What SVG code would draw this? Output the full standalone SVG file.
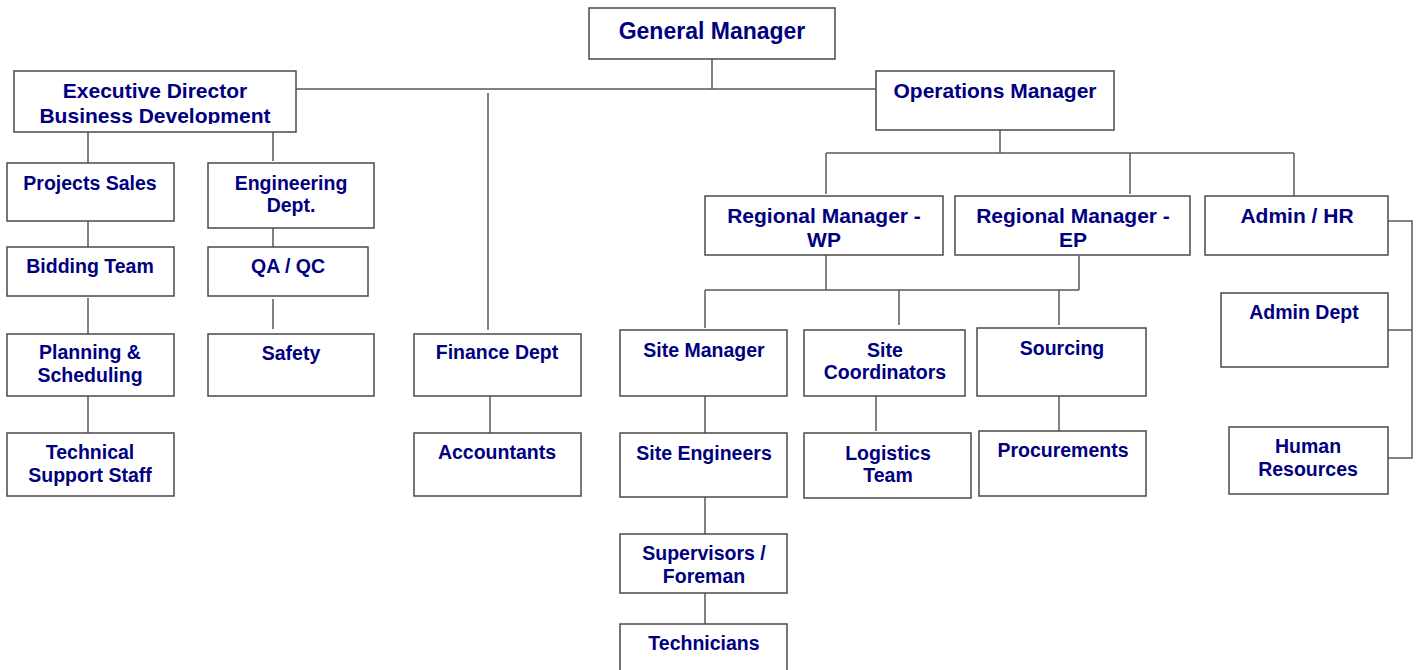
<svg xmlns="http://www.w3.org/2000/svg" width="1418" height="670" viewBox="0 0 1418 670">
<style>
.box{fill:#fff;stroke:#4a4a4a;stroke-width:1.5}
.ln{fill:none;stroke:#5a5a5a;stroke-width:1.5}
text{font-family:"Liberation Sans",Arial,sans-serif;font-weight:bold;fill:#000080;text-anchor:middle}
.t1{font-size:23px}
.t2{font-size:21px}
.t3{font-size:19.5px}
</style>
<defs>
<clipPath id="edclip"><rect x="14" y="71" width="282" height="53"/></clipPath>
</defs>
<rect width="1418" height="670" fill="#fff"/>
<g id="connectors">
<path class="ln" d="M712 59V89M296 89H876M488 93V330"/>
<path class="ln" d="M88 132V163M88 221V247M88 298V334M88 396V433"/>
<path class="ln" d="M273 131V161M273 228V247M273 299V329"/>
<path class="ln" d="M490 396V433"/>
<path class="ln" d="M1000 130V153M826 153H1294M826 153V194M1130 153V194M1294 153V196"/>
<path class="ln" d="M826 255V290M705 290H1079M1079 256V290M705 290V328M899 290V325M1059 290V325"/>
<path class="ln" d="M705 396V433M705 497V534M705 593V624M876 396V431M1059 396V431"/>
<path class="ln" d="M1388 221H1412V458H1388M1388 330H1412"/>
</g>
<g id="gm"><rect class="box" x="589" y="8" width="246" height="51"/><text class="t1" x="712" y="39">General Manager</text></g>
<g id="exec"><rect class="box" x="14" y="71" width="282" height="61"/><g clip-path="url(#edclip)"><text class="t2" x="155" y="98">Executive Director</text><text class="t2" x="155" y="123">Business Development</text></g></g>
<g id="ops"><rect class="box" x="876" y="71" width="238" height="59"/><text class="t2" x="995" y="98">Operations Manager</text></g>
<g id="projects-sales"><rect class="box" x="7" y="163" width="167" height="58"/><text class="t3" x="90" y="190">Projects Sales</text></g>
<g id="engineering"><rect class="box" x="208" y="163" width="166" height="65"/><text class="t3" x="291" y="190">Engineering</text><text class="t3" x="291" y="212">Dept.</text></g>
<g id="bidding"><rect class="box" x="7" y="247" width="167" height="49"/><text class="t3" x="90" y="273">Bidding Team</text></g>
<g id="qaqc"><rect class="box" x="208" y="247" width="160" height="49"/><text class="t3" x="288" y="273">QA / QC</text></g>
<g id="planning"><rect class="box" x="7" y="334" width="167" height="62"/><text class="t3" x="90" y="359">Planning &amp;</text><text class="t3" x="90" y="382">Scheduling</text></g>
<g id="safety"><rect class="box" x="208" y="334" width="166" height="62"/><text class="t3" x="291" y="360">Safety</text></g>
<g id="technical"><rect class="box" x="7" y="433" width="167" height="63"/><text class="t3" x="90" y="459">Technical</text><text class="t3" x="90" y="482">Support Staff</text></g>
<g id="finance"><rect class="box" x="414" y="334" width="167" height="62"/><text class="t3" x="497" y="359">Finance Dept</text></g>
<g id="accountants"><rect class="box" x="414" y="433" width="167" height="63"/><text class="t3" x="497" y="459">Accountants</text></g>
<g id="rm-wp"><rect class="box" x="705" y="196" width="238" height="59"/><text class="t2" x="824" y="223">Regional Manager -</text><text class="t2" x="824" y="247">WP</text></g>
<g id="rm-ep"><rect class="box" x="955" y="196" width="235" height="59"/><text class="t2" x="1073" y="223">Regional Manager -</text><text class="t2" x="1073" y="247">EP</text></g>
<g id="admin-hr"><rect class="box" x="1205" y="196" width="183" height="59"/><text class="t2" x="1297" y="223">Admin / HR</text></g>
<g id="admin-dept"><rect class="box" x="1221" y="293" width="167" height="74"/><text class="t3" x="1304" y="319">Admin Dept</text></g>
<g id="hr"><rect class="box" x="1229" y="427" width="159" height="67"/><text class="t3" x="1308" y="453">Human</text><text class="t3" x="1308" y="476">Resources</text></g>
<g id="site-manager"><rect class="box" x="620" y="330" width="167" height="66"/><text class="t3" x="704" y="357">Site Manager</text></g>
<g id="site-coord"><rect class="box" x="804" y="330" width="161" height="66"/><text class="t3" x="885" y="357">Site</text><text class="t3" x="885" y="379">Coordinators</text></g>
<g id="sourcing"><rect class="box" x="977" y="328" width="169" height="68"/><text class="t3" x="1062" y="355">Sourcing</text></g>
<g id="site-engineers"><rect class="box" x="620" y="433" width="167" height="64"/><text class="t3" x="704" y="460">Site Engineers</text></g>
<g id="logistics"><rect class="box" x="804" y="433" width="167" height="65"/><text class="t3" x="888" y="460">Logistics</text><text class="t3" x="888" y="482">Team</text></g>
<g id="procurements"><rect class="box" x="979" y="431" width="167" height="65"/><text class="t3" x="1063" y="457">Procurements</text></g>
<g id="supervisors"><rect class="box" x="620" y="534" width="167" height="59"/><text class="t3" x="704" y="560">Supervisors /</text><text class="t3" x="704" y="583">Foreman</text></g>
<g id="technicians"><rect class="box" x="620" y="624" width="167" height="60"/><text class="t3" x="704" y="650">Technicians</text></g>
</svg>
